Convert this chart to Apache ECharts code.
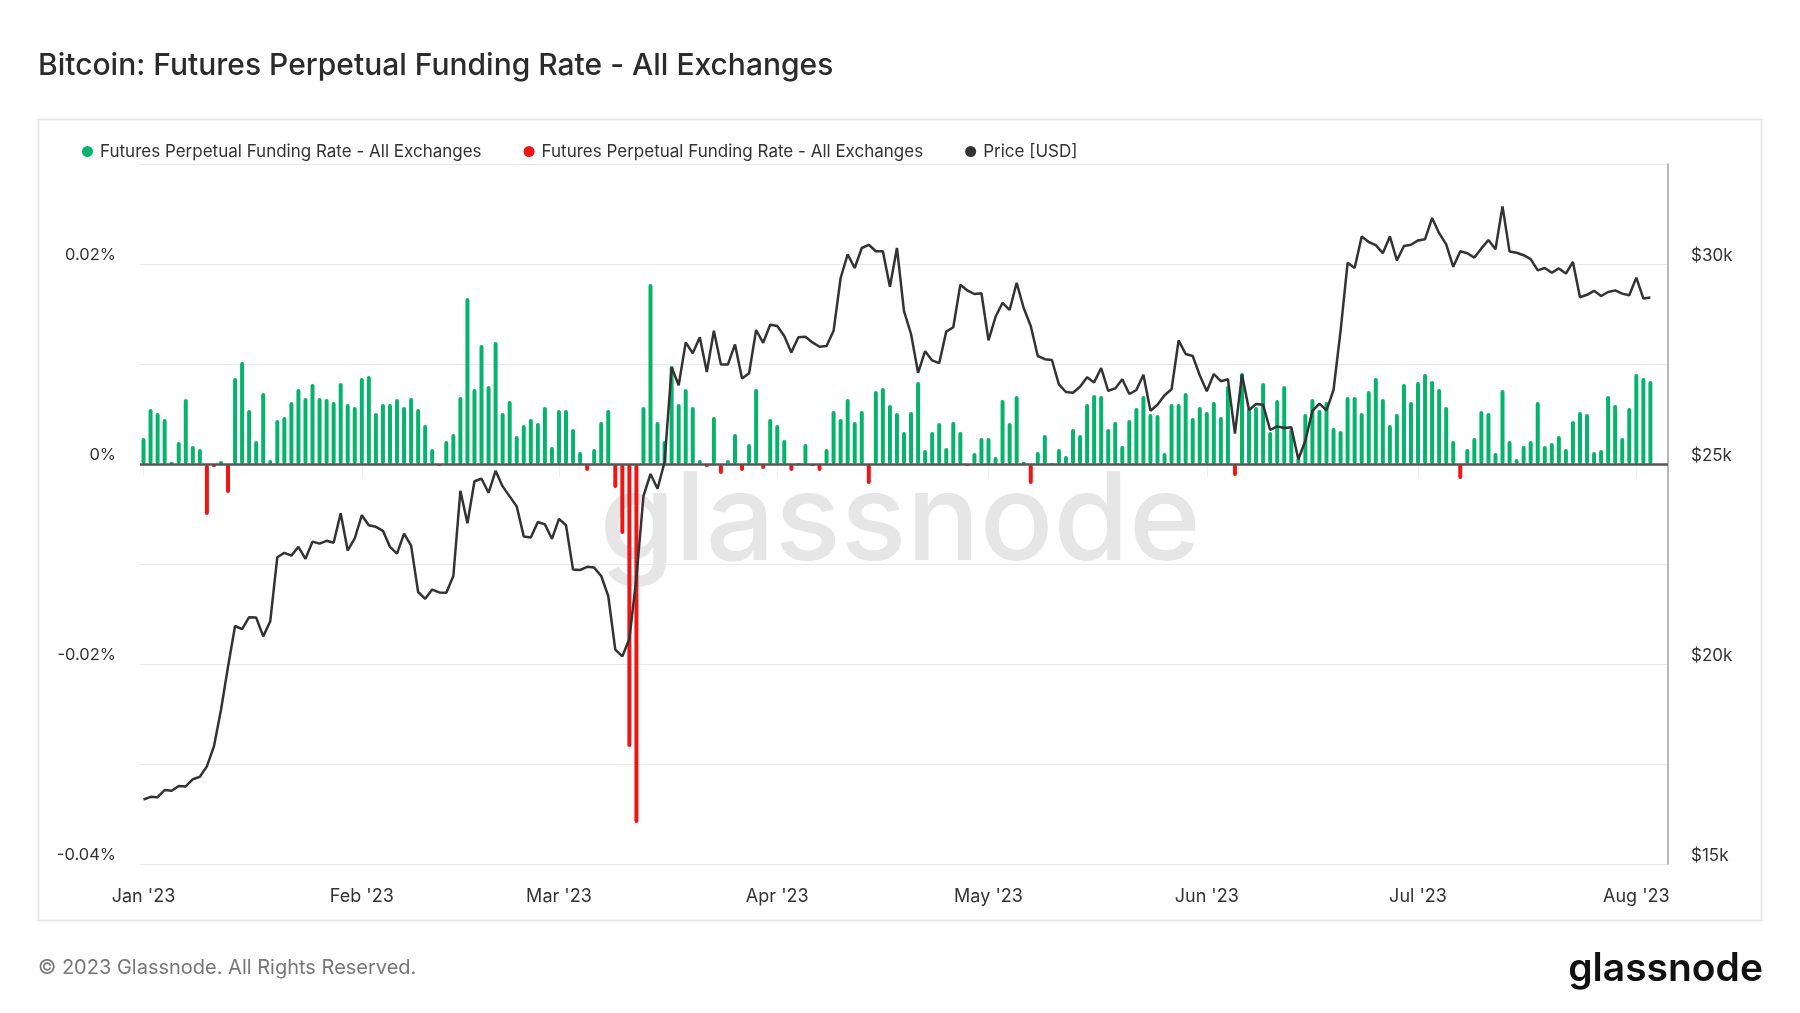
<!DOCTYPE html>
<html>
<head>
<meta charset="utf-8">
<script src="https://cdn.jsdelivr.net/npm/echarts/dist/echarts.min.js"></script>
<style>
html,body{margin:0;padding:0;background:#ffffff;}
#chart{width:1800px;height:1013px;}
</style>
</head>
<body>
<div id="chart"></div>
<script>
// ---------- data ----------
const startDate = '2023-01-01';
const dayCount = 217; // Jan 1 .. Aug 5, 2023 (daily categories)
const monthNames = ['Jan','Feb','Mar','Apr','May','Jun','Jul','Aug','Sep','Oct','Nov','Dec'];

// Futures perpetual funding rate, in percent, daily from Jan 1 2023
const fundingRate = [
  // Jan
  0.0026, 0.0055, 0.0051, 0.0045, 0.0002, 0.0022, 0.0065, 0.0018, 0.0015, -0.0051,
  -0.0003, 0.0003, -0.0029, 0.0086, 0.0102, 0.0054, 0.0023, 0.0071, 0.0004, 0.0044,
  0.0047, 0.0062, 0.0075, 0.0066, 0.0080, 0.0066, 0.0065, 0.0062, 0.0081, 0.0060,
  0.0057,
  // Feb
  0.0086, 0.0088, 0.0051, 0.0060, 0.0060, 0.0065, 0.0057, 0.0066, 0.0055, 0.0039,
  0.0015, -0.0002, 0.0023, 0.0030, 0.0067, 0.0166, 0.0075, 0.0119, 0.0078, 0.0122,
  0.0051, 0.0063, 0.0028, 0.0039, 0.0045, 0.0041, 0.0057, 0.0017,
  // Mar
  0.0054, 0.0054, 0.0035, 0.0012, -0.0007, 0.0015, 0.0042, 0.0054, -0.0024, -0.0070,
  -0.0283, -0.0359, 0.0057, 0.0180, 0.0042, 0.0023, 0.0098, 0.0060, 0.0075, 0.0057,
  0.0004, -0.0003, 0.0047, -0.0010, 0.0004, 0.0030, -0.0007, 0.0020, 0.0075, -0.0005,
  0.0045,
  // Apr
  0.0039, 0.0024, -0.0007, 0.0001, 0.0020, -0.0002, -0.0007, 0.0015, 0.0053, 0.0045,
  0.0065, 0.0042, 0.0053, -0.0020, 0.0073, 0.0076, 0.0059, 0.0051, 0.0032, 0.0052,
  0.0082, 0.0014, 0.0032, 0.0041, 0.0016, 0.0042, 0.0032, -0.0002, 0.0011, 0.0026,
  // May
  0.0026, 0.0007, 0.0064, 0.0041, 0.0068, 0.0002, -0.0020, 0.0012, 0.0029, 0.0001,
  0.0015, 0.0008, 0.0035, 0.0029, 0.0060, 0.0069, 0.0068, 0.0035, 0.0042, 0.0018,
  0.0044, 0.0056, 0.0068, 0.0050, 0.0049, 0.0011, 0.0060, 0.0060, 0.0071, 0.0046,
  0.0057,
  // Jun
  0.0052, 0.0062, 0.0047, 0.0078, -0.0012, 0.0091, 0.0056, 0.0057, 0.0081, 0.0032,
  0.0064, 0.0078, 0.0035, 0.0006, 0.0050, 0.0065, 0.0054, 0.0062, 0.0036, 0.0033,
  0.0067, 0.0067, 0.0051, 0.0073, 0.0086, 0.0065, 0.0039, 0.0050, 0.0080, 0.0062,
  // Jul
  0.0082, 0.0090, 0.0083, 0.0075, 0.0057, 0.0023, -0.0015, 0.0015, 0.0026, 0.0053,
  0.0051, 0.0011, 0.0074, 0.0023, 0.0005, 0.0018, 0.0023, 0.0062, 0.0018, 0.0021,
  0.0028, 0.0015, 0.0043, 0.0052, 0.0050, 0.0012, 0.0014, 0.0068, 0.0059, 0.0026,
  0.0056,
  // Aug
  0.0090, 0.0086, 0.0083
];

// BTC price in USD, daily from Jan 1 2023
const priceUSD = [
  // Jan
  16613, 16680, 16670, 16850, 16830, 16950, 16940, 17120, 17180, 17440,
  17940, 18850, 19930, 20950, 20870, 21170, 21160, 20690, 21070, 22670,
  22780, 22710, 22930, 22630, 23060, 23010, 23080, 23030, 23770, 22840,
  23140,
  // Feb
  23720, 23470, 23430, 23330, 22930, 22760, 23260, 22960, 21800, 21630,
  21860, 21790, 21780, 22200, 24330, 23520, 24570, 24630, 24280, 24830,
  24440, 24190, 23940, 23190, 23160, 23550, 23490, 23130,
  // Mar
  23630, 23470, 22360, 22350, 22430, 22410, 22200, 21700, 20360, 20190,
  20630, 22160, 24200, 24750, 24380, 25050, 27420, 26970, 28040, 27770,
  28170, 27300, 28330, 27490, 27490, 27990, 27140, 27270, 28350, 28030,
  28480,
  // Apr
  28450, 28200, 27790, 28170, 28180, 28040, 27930, 27950, 28330, 29650,
  30240, 29900, 30400, 30480, 30320, 30320, 29430, 30400, 28820, 28250,
  27280, 27820, 27590, 27520, 28310, 28420, 29480, 29340, 29250, 29270,
  // May
  28090, 28680, 29030, 28850, 29530, 28900, 28450, 27700, 27620, 27600,
  26990, 26800, 26780, 26930, 27170, 27040, 27400, 26830, 26890, 27120,
  26750, 26850, 27230, 26330, 26480, 26720, 26870, 28090, 27750, 27700,
  27220,
  // Jun
  26820, 27250, 27070, 27120, 25760, 27240, 26350, 26500, 26480, 25850,
  25940, 25900, 25920, 25120, 25580, 26330, 26510, 26340, 26850, 28330,
  30030, 29900, 30690, 30550, 30470, 30270, 30690, 30090, 30450, 30480,
  // Jul
  30590, 30620, 31150, 30770, 30490, 29930, 30320, 30270, 30160, 30390,
  30600, 30370, 31440, 30310, 30280, 30220, 30120, 29840, 29900, 29780,
  29890, 29760, 30050, 29170, 29230, 29330, 29200, 29300, 29340, 29260,
  29220,
  // Aug
  29660, 29140, 29160
];

// axis tick settings
const leftAxisMin = -0.04, leftAxisMax = 0.03, leftAxisStep = 0.01;
const rightAxisMin = 15000, rightAxisMax = 32500, rightAxisStep = 2500;

// ---------- build ----------
const dates = [];
(function () {
  const t0 = Date.parse(startDate + 'T00:00:00Z');
  for (let i = 0; i < dayCount; i++) {
    const d = new Date(t0 + i * 86400000);
    dates.push(d.toISOString().slice(0, 10));
  }
})();

const isMonthStart = (idx, val) => String(val).slice(8, 10) === '01';
const fmtMonth = (val) => {
  const m = parseInt(String(val).slice(5, 7), 10) - 1;
  return monthNames[m] + " '" + String(val).slice(2, 4);
};

const GREEN = '#06b36c';
const RED = '#ee1515';
const DARK = '#333333';
const FONT = 'Inter, "Noto Sans", sans-serif';
const FR_POS = 'fr_pos', FR_NEG = 'fr_neg', PRICE = 'Price [USD]';
const FR_LABEL = 'Futures Perpetual Funding Rate - All Exchanges';

const chart = echarts.init(document.getElementById('chart'), null, { renderer: 'canvas' });

chart.setOption({
  animation: false,
  backgroundColor: '#ffffff',
  textStyle: { fontFamily: FONT },
  graphic: [
    { type: 'rect', z: 0, silent: true,
      shape: { x: 38.5, y: 119.5, width: 1723, height: 801 },
      style: { fill: 'none', stroke: '#e4e4e4', lineWidth: 1.5 } },
    { type: 'text', z: 0, silent: true, x: 38, y: 66,
      style: { text: 'Bitcoin: Futures Perpetual Funding Rate - All Exchanges',
        font: '500 30px ' + FONT, fill: '#2b2b2b', textAlign: 'left', textVerticalAlign: 'middle',
        align: 'left', verticalAlign: 'middle' } },
    { type: 'text', z: 0, silent: true, x: 900, y: 523,
      style: { text: 'glassnode', font: '500 122px ' + FONT, fill: '#e6e6e6',
        textAlign: 'center', textVerticalAlign: 'middle', align: 'center', verticalAlign: 'middle' } },
    { type: 'text', z: 0, silent: true, x: 38, y: 968,
      style: { text: '\u00A9 2023 Glassnode. All Rights Reserved.', font: '400 20px ' + FONT, fill: '#777777',
        textAlign: 'left', textVerticalAlign: 'middle', align: 'left', verticalAlign: 'middle' } },
    { type: 'text', z: 0, silent: true, x: 1763, y: 969,
      style: { text: 'glassnode', font: '600 39px ' + FONT, fill: '#111111',
        textAlign: 'right', textVerticalAlign: 'middle', align: 'right', verticalAlign: 'middle' } }
  ],
  legend: {
    left: 77, top: 138,
    icon: 'circle', itemWidth: 11, itemHeight: 11, itemGap: 42,
    textStyle: { color: '#333', fontSize: 17, fontFamily: FONT, padding: [0, 0, 0, 2] },
    data: [FR_POS, FR_NEG, PRICE],
    formatter: (n) => (n === PRICE ? PRICE : FR_LABEL)
  },
  grid: { left: 140, right: 132, top: 164, bottom: 149, containLabel: false },
  xAxis: {
    type: 'category',
    data: dates,
    boundaryGap: true,
    axisLine: { show: true, lineStyle: { color: '#e2e2e2', width: 1 } },
    axisTick: { show: true, interval: isMonthStart, alignWithLabel: true, length: 13,
      lineStyle: { color: '#efefef', width: 1 } },
    axisLabel: { interval: isMonthStart, formatter: fmtMonth, color: '#333', fontSize: 18,
      margin: 24, fontFamily: FONT },
    splitLine: { show: false }
  },
  yAxis: [
    {
      type: 'value', position: 'left',
      min: leftAxisMin, max: leftAxisMax, interval: leftAxisStep,
      axisLine: { show: false }, axisTick: { show: false },
      axisLabel: {
        color: '#333', fontSize: 16.5, margin: 24, fontFamily: FONT,
        verticalAlign: 'bottom', padding: [0, 0, 0, 0],
        formatter: (v) => {
          const k = Math.round(v * 100);
          if (k % 2 !== 0) return '';
          return (k / 100).toString() + '%';
        }
      },
      splitLine: { show: true, lineStyle: { color: '#e9e9e9', width: 1 } }
    },
    {
      type: 'value', position: 'right',
      min: rightAxisMin, max: rightAxisMax, interval: rightAxisStep,
      axisLine: { show: true, lineStyle: { color: '#a0a0a0', width: 1.5 } },
      axisTick: { show: false },
      axisLabel: {
        color: '#333', fontSize: 17, margin: 23, fontFamily: FONT,
        verticalAlign: 'bottom', padding: [0, 0, 0, 0],
        formatter: (v) => (Math.round(v) % 5000 === 0 ? '$' + Math.round(v / 1000) + 'k' : '')
      },
      splitLine: { show: false }
    }
  ],
  series: [
    {
      name: FR_POS, type: 'bar', yAxisIndex: 0,
      data: fundingRate.map((v) => (v >= 0 ? v : null)),
      barWidth: 4, barGap: '-100%',
      itemStyle: { color: GREEN, borderRadius: 2 },
      markLine: {
        silent: true, symbol: 'none', label: { show: false },
        lineStyle: { color: '#565656', width: 2.5, type: 'solid' },
        data: [{ yAxis: 0 }]
      },
      z: 2
    },
    {
      name: FR_NEG, type: 'bar', yAxisIndex: 0,
      data: fundingRate.map((v) => (v < 0 ? v : null)),
      barWidth: 4, barGap: '-100%',
      itemStyle: { color: RED, borderRadius: 2 },
      z: 2
    },
    {
      name: PRICE, type: 'line', yAxisIndex: 1,
      data: priceUSD,
      symbol: 'none', showSymbol: false,
      lineStyle: { color: DARK, width: 2.5 },
      itemStyle: { color: DARK },
      z: 5
    }
  ]
});
</script>
</body>
</html>
